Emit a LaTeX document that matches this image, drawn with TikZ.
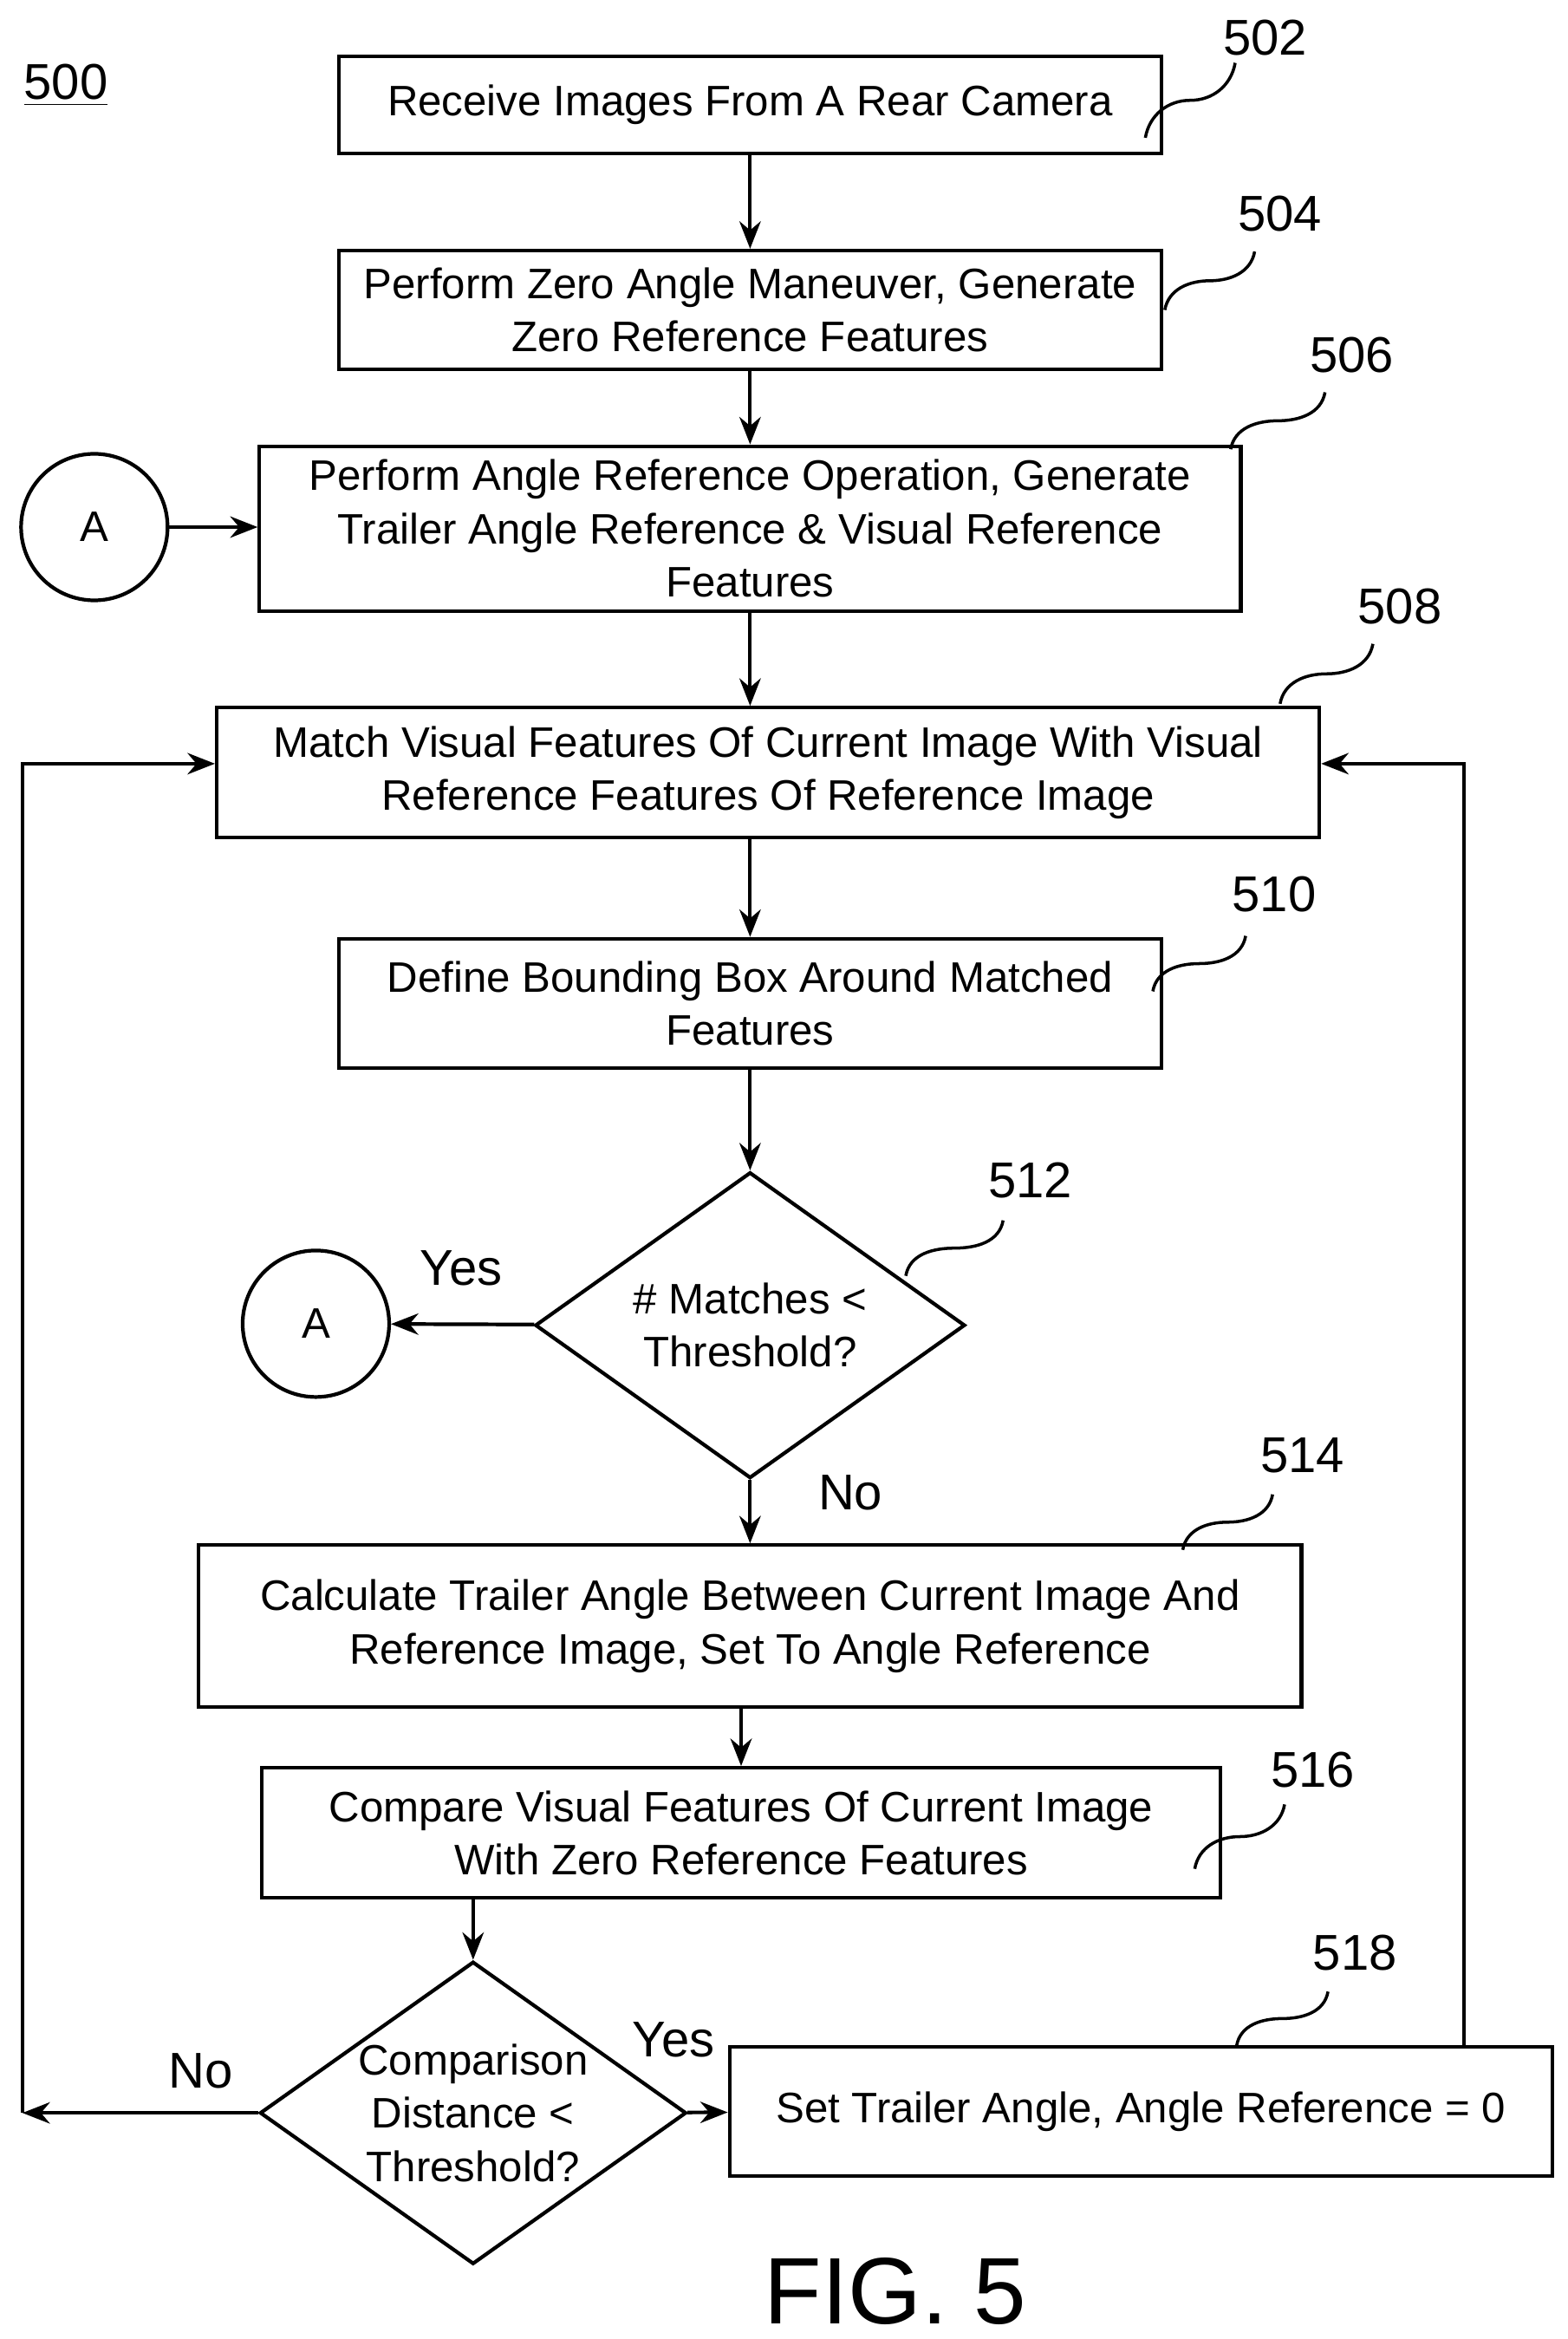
\documentclass[tikz,border=0pt]{standalone}
\usepackage{fontspec}
\setmainfont{Liberation Sans}
\usetikzlibrary{shapes.geometric,arrows.meta,calc}
\tikzset{
  box/.style = {draw, line width=1.2pt, align=center, inner sep=2pt,
                font=\fontsize{14}{17.5}\selectfont},
  test/.style = {draw, line width=1.2pt, shape=diamond, aspect=1.4, inner sep=-3pt,
                 align=center, font=\fontsize{14}{17.5}\selectfont},
  conn/.style = {draw, circle, line width=1.2pt, minimum size=1.69cm,
                 font=\fontsize{14}{17.5}\selectfont},
  arr/.style = {line width=1.2pt, -{Stealth[length=9pt,width=7pt]}},
  refnum/.style = {font=\fontsize{16.5}{20}\selectfont},
  word/.style = {font=\fontsize{16.5}{20}\selectfont},
  hook/.style = {line width=1pt}
}
\newcommand{\squig}[2]{\draw[hook] (#1) to[out=80,in=180] ($(#1)!0.5!(#2)$) to[out=0,in=-100] (#2);}
\begin{document}
\begin{tikzpicture}[x=0.01728cm, y=-0.01728cm]
  \useasboundingbox (0,0) rectangle (1047,1562);

  % process steps
  \node[box, minimum width=9.49cm, minimum height=1.12cm] (recv) at (501,70)
    {Receive Images From A Rear Camera};
  \node[box, minimum width=9.49cm, minimum height=1.37cm] (zero) at (501,207)
    {Perform Zero Angle Maneuver, Generate\\Zero Reference Features};
  \node[box, minimum width=11.32cm, minimum height=1.90cm] (angref) at (501,353)
    {Perform Angle Reference Operation, Generate\\Trailer Angle Reference \& Visual Reference\\Features};
  \node[box, minimum width=12.72cm, minimum height=1.50cm] (match) at (513,516)
    {Match Visual Features Of Current Image With Visual\\Reference Features Of Reference Image};
  \node[box, minimum width=9.49cm, minimum height=1.49cm] (bbox) at (501,670)
    {Define Bounding Box Around Matched\\Features};
  \node[test, minimum width=4.96cm, minimum height=3.53cm] (nmatch) at (501,885)
    {\# Matches <\\Threshold?};
  \node[box, minimum width=12.72cm, minimum height=1.87cm] (calc) at (501,1086)
    {Calculate Trailer Angle Between Current Image And\\Reference Image, Set To Angle Reference};
  \node[box, minimum width=11.06cm, minimum height=1.50cm] (cmp) at (495,1224)
    {Compare Visual Features Of Current Image\\With Zero Reference Features};
  \node[test, minimum width=4.92cm, minimum height=3.49cm] (dist) at (316,1411)
    {Comparison\\Distance <\\Threshold?};
  \node[box, minimum width=9.49cm, minimum height=1.49cm] (set) at (762,1410)
    {Set Trailer Angle, Angle Reference = 0};

  % connectors A
  \node[conn] (conA) at (63,352) {A};
  \node[conn] (conB) at (211,884) {A};

  % arrows
  \draw[arr] (recv) -- (zero);
  \draw[arr] (zero) -- (angref);
  \draw[arr] (angref) -- (match.north -| angref.south);
  \draw[arr] (match.south -| bbox.north) -- (bbox);
  \draw[arr] (bbox) -- (nmatch);
  \draw[arr] (nmatch) -- (calc);
  \draw[arr] (calc.south -| cmp.north) -- (cmp);
  \draw[arr] (cmp.south -| dist.north) -- (dist);
  \draw[arr] (dist) -- (set);
  \draw[arr] (conA) -- (angref.west |- conA);
  \draw[arr] (nmatch) -- (conB);

  % loops back
  \coordinate (ll) at (15,1411);
  \coordinate (lt) at (15,510);
  \coordinate (rt) at (978,510);
  \draw[arr] (dist) -- (ll);
  \draw[arr] (ll) -- (lt) -- (lt -| match.west);
  \draw[arr] (set.north -| rt) -- (rt) -- (rt -| match.east);

  % branch words
  \node[word] (y1) at (308,847) {Yes};
  \node[word] (n1) at (568,997) {No};
  \node[word] (y2) at (450,1362) {Yes};
  \node[word] (n2) at (134,1383) {No};

  % reference numbers
  \node[refnum] (r500) at (44,57) {\underline{500}};
  \node[refnum] (r502) at (845,25) {502};
  \node[refnum] (r504) at (855,143) {504};
  \node[refnum] (r506) at (903,237) {506};
  \node[refnum] (r508) at (935,405) {508};
  \node[refnum] (r510) at (851,597) {510};
  \node[refnum] (r512) at (688,788) {512};
  \node[refnum] (r514) at (870,972) {514};
  \node[refnum] (r516) at (877,1182) {516};
  \node[refnum] (r518) at (905,1304) {518};
  \squig{765,92}{825,42}
  \squig{778,207}{838,168}
  \squig{822,300}{885,262}
  \squig{855,470}{917,430}
  \squig{770,662}{832,625}
  \squig{605,852}{670,815}
  \squig{790,1035}{850,998}
  \squig{798,1248}{858,1205}
  \squig{826,1366}{887,1330}

  \node[font=\fontsize{31}{34}\selectfont] (fig) at (598,1530) {FIG. 5};
\end{tikzpicture}
\end{document}
